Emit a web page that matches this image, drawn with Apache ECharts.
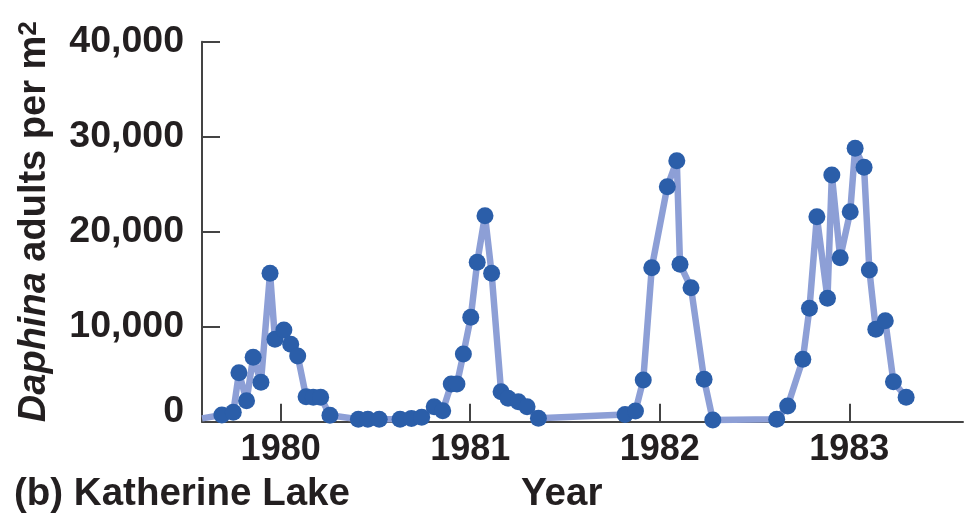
<!DOCTYPE html>
<html>
<head>
<meta charset="utf-8">
<title>Daphina adults per m² — Katherine Lake</title>
<script src="https://cdn.jsdelivr.net/npm/echarts@6/dist/echarts.min.js"></script>
<style>
  html, body { margin: 0; padding: 0; background: #ffffff; }
  #chart { width: 966px; height: 515px; }
</style>
</head>
<body>
<div id="chart"></div>
<script>
// Sampling dates (decimal years) and Daphina adult densities (per m²)
const sampleYears = [
  1979.585, 1979.69, 1979.75, 1979.78, 1979.82, 1979.855, 1979.896, 1979.944, 1979.97,
  1980.017, 1980.053, 1980.09, 1980.134, 1980.172, 1980.211, 1980.26,
  1980.41, 1980.46, 1980.52, 1980.63, 1980.69, 1980.744, 1980.81, 1980.855, 1980.90, 1980.93, 1980.964,
  1981.003, 1981.037, 1981.078, 1981.113, 1981.163, 1981.20, 1981.254, 1981.30, 1981.36,
  1981.817, 1981.872, 1981.913, 1981.958,
  1982.04, 1982.09, 1982.107, 1982.165, 1982.234, 1982.28,
  1982.617, 1982.675, 1982.755, 1982.79, 1982.829, 1982.885, 1982.908, 1982.952,
  1983.005, 1983.031, 1983.078, 1983.106, 1983.14, 1983.19, 1983.233, 1983.30
];
const adultsPerM2 = [
  350, 700, 990, 5160, 2210, 6780, 4150, 15620, 8670,
  9650, 8150, 6920, 2630, 2570, 2570, 670,
  250, 250, 250, 250, 350, 460, 1580, 1160, 3970, 3970, 7130,
  10990, 16780, 21690, 15620, 3160, 2460, 2110, 1580, 360,
  760, 1130, 4390, 16210,
  24740, 27470, 16570, 14110, 4460, 180,
  250, 1650, 6570, 11940, 21580, 12990, 25970, 17260,
  22100, 28780, 26780, 15970, 9730, 10630, 4210, 2570
];

const yearTicks = [1980, 1981, 1982, 1983];
const yTickValues = [0, 10000, 20000, 30000, 40000];
const yTickLabels = ['0', '10,000', '20,000', '30,000', '40,000'];

const textColor = '#231f20';
const axisColor = '#444444';
const fontFamily = '"Liberation Sans", Arial, Helvetica, sans-serif';

// The first record continues from before the plotted window, so it has no marker
const seriesData = sampleYears.map((t, i) => {
  const item = { value: [t, adultsPerM2[i]] };
  if (i === 0) item.symbol = 'none';
  return item;
});

const chart = echarts.init(document.getElementById('chart'), null, { renderer: 'canvas' });

chart.setOption({
  animation: false,
  backgroundColor: '#ffffff',
  grid: { left: 202, right: 3, top: 41.7, bottom: 93.3, containLabel: false },
  title: [
    {
      text: '(b) Katherine Lake',
      left: 9, top: 470,
      textStyle: { fontFamily, fontWeight: 'bold', fontSize: 38.5, color: textColor }
    },
    {
      text: 'Year',
      left: 516, top: 470,
      textStyle: { fontFamily, fontWeight: 'bold', fontSize: 38.5, color: textColor }
    }
  ],
  xAxis: {
    type: 'value',
    min: 1979.585,
    max: 1983.6,
    splitLine: { show: false },
    axisLine: { show: true, onZero: false, lineStyle: { color: axisColor, width: 2 } },
    axisTick: {
      show: true, inside: true, length: 18,
      customValues: yearTicks,
      lineStyle: { color: axisColor, width: 2 }
    },
    axisLabel: {
      show: true,
      customValues: yearTicks,
      margin: 10,
      fontFamily, fontWeight: 'bold', fontSize: 36, color: textColor,
      formatter: v => String(Math.round(v))
    }
  },
  yAxis: {
    type: 'value',
    min: 0,
    max: 40000,
    interval: 10000,
    splitLine: { show: false },
    axisLine: { show: true, lineStyle: { color: axisColor, width: 2 } },
    axisTick: { show: true, inside: true, length: 18, lineStyle: { color: axisColor, width: 2 } },
    axisLabel: {
      margin: 18,
      fontFamily, fontWeight: 'bold', fontSize: 37.5, color: textColor,
      formatter: v => {
        const label = yTickLabels[yTickValues.indexOf(v)];
        return v === 0 ? '{z|' + label + '}' : label;
      },
      rich: {
        z: { fontFamily, fontWeight: 'bold', fontSize: 37.5, color: textColor, padding: [0, 0, 20, 0] }
      }
    },
    name: '{i|Daphina} adults per m{s|2}',
    nameLocation: 'middle',
    nameRotate: 90,
    nameGap: 148,
    nameTextStyle: {
      fontFamily, fontWeight: 'bold', fontSize: 38, color: textColor,
      padding: [0, 0, 0, 20],
      rich: {
        i: { fontFamily, fontStyle: 'italic', fontWeight: 'bold', fontSize: 38, color: textColor },
        s: { fontFamily, fontWeight: 'bold', fontSize: 26, color: textColor, verticalAlign: 'top', lineHeight: 24 }
      }
    }
  },
  series: [
    {
      type: 'line',
      data: seriesData,
      clip: false,
      symbol: 'circle',
      symbolSize: 17,
      lineStyle: { color: '#8d9fd6', width: 6.5 },
      itemStyle: { color: '#2b5ea9', borderWidth: 0 },
      emphasis: { disabled: true }
    }
  ]
});
</script>
</body>
</html>
